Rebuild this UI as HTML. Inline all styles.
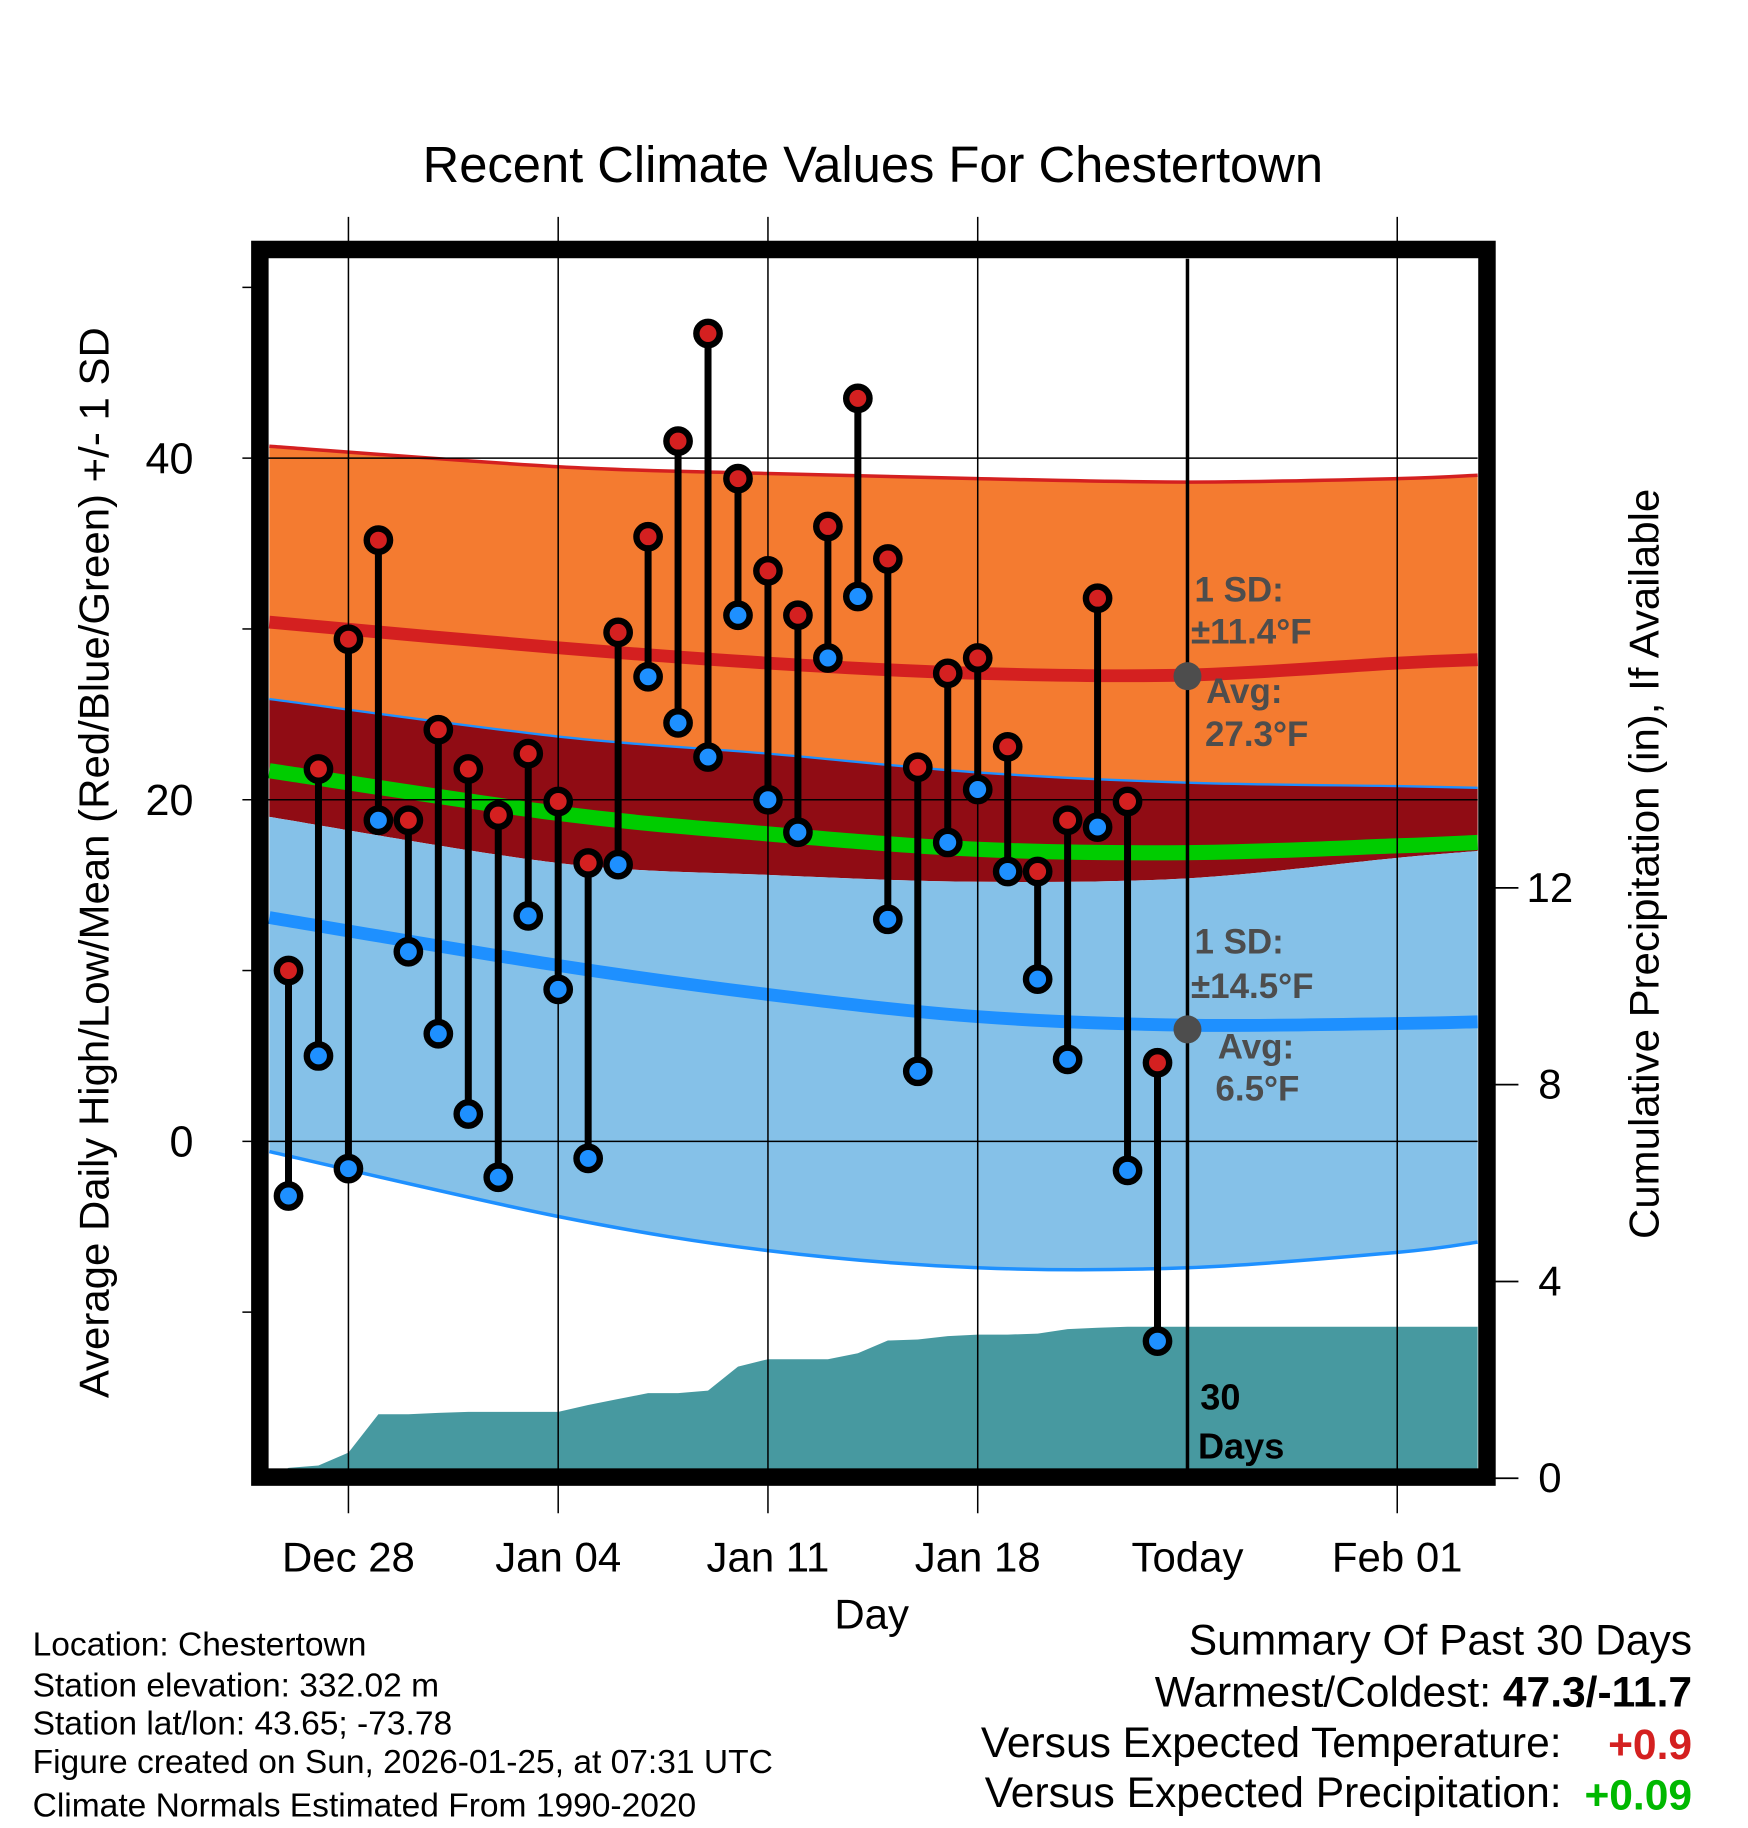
<!DOCTYPE html>
<html><head><meta charset="utf-8"><style>
html,body{margin:0;padding:0;background:#fff}
svg{display:block}
text{font-family:"Liberation Sans",Arial,sans-serif}
</style></head><body>
<svg id="chart" width="1748" height="1828" viewBox="0 0 1500 1568" preserveAspectRatio="none" xmlns="http://www.w3.org/2000/svg">
<g id="bands"></g>
<g id="precip"></g>
<g id="grid"></g>
<g id="marks"></g>
<g id="annot">
<line x1="1019" y1="222" x2="1019" y2="1262" stroke="#000" stroke-width="3"/>
<circle cx="1019" cy="580" r="12" fill="#4d4d4d"/>
<circle cx="1019" cy="883" r="12" fill="#4d4d4d"/>
<g font-weight="bold" font-size="30" fill="#4d4d4d">
<text x="1025" y="516">1 SD:</text>
<text x="1022" y="552">±11.4°F</text>
<text x="1035" y="603">Avg:</text>
<text x="1034" y="640">27.3°F</text>
<text x="1025" y="818">1 SD:</text>
<text x="1022" y="856">±14.5°F</text>
<text x="1045" y="908">Avg:</text>
<text x="1043" y="944">6.5°F</text>
</g>
<g font-weight="bold" font-size="31" fill="#000">
<text x="1030" y="1209">30</text>
<text x="1028" y="1251">Days</text>
</g>
</g>
<rect x="223" y="214" width="1053" height="1053" fill="none" stroke="#000" stroke-width="15"/>
<g id="axes"></g>
<text x="749" y="156" font-size="43.5" text-anchor="middle">Recent Climate Values For Chestertown</text>
<text transform="translate(93,740) rotate(-90)" font-size="36" text-anchor="middle">Average Daily High/Low/Mean (Red/Blue/Green) +/- 1 SD</text>
<text transform="translate(1423,741) rotate(-90)" font-size="36" text-anchor="middle">Cumulative Precipitation (in), If Available</text>
<text x="748" y="1397" font-size="36" text-anchor="middle">Day</text>
<g font-size="28.8">
<text x="28" y="1420">Location: Chestertown</text>
<text x="28" y="1455">Station elevation: 332.02 m</text>
<text x="28" y="1488">Station lat/lon: 43.65; -73.78</text>
<text x="28" y="1521">Figure created on Sun, 2026-01-25, at 07:31 UTC</text>
<text x="28" y="1558">Climate Normals Estimated From 1990-2020</text>
</g>
<g font-size="36.5" text-anchor="end">
<text x="1452" y="1419">Summary Of Past 30 Days</text>
<text x="1452" y="1464">Warmest/Coldest: <tspan font-weight="bold">47.3/-11.7</tspan></text>
<text x="1340" y="1507">Versus Expected Temperature:</text>
<text x="1452" y="1509" font-weight="bold" fill="#d42020">+0.9</text>
<text x="1340" y="1550">Versus Expected Precipitation:</text>
<text x="1452" y="1552" font-weight="bold" fill="#00b800">+0.09</text>
</g>
</svg>
<script>
const dayOffsets=[-2,-1,0,1,2,3,4,5,6,7,8,9,10,11,12,13,14,15,16,17,18,19,20,21,22,23,24,25,26,27];
const highs=[10.0,21.8,29.4,35.2,18.8,24.1,21.8,19.1,22.7,19.9,16.3,29.8,35.4,41.0,47.3,38.8,33.4,30.8,36.0,43.5,34.1,21.9,27.4,28.3,23.1,15.8,18.8,31.8,19.9,4.6];
const lows=[-3.2,5.0,-1.6,18.8,11.1,6.3,1.6,-2.1,13.2,8.9,-1.0,16.2,27.2,24.5,22.5,30.8,20.0,18.1,28.3,31.9,13.0,4.1,17.5,20.6,15.8,9.5,4.8,18.4,-1.7,-11.7];
const precipCum=[0.21,0.26,0.52,1.30,1.30,1.33,1.35,1.35,1.35,1.35,1.49,1.61,1.73,1.73,1.78,2.27,2.42,2.42,2.42,2.54,2.80,2.82,2.89,2.92,2.92,2.94,3.03,3.06,3.08,3.08];
const normDays=[-2.64,7,14,21,28,35,37.7];
const highPlus=[40.7,39.5,39.1,38.8,38.6,38.8,39.0];
const highMean=[30.4,28.9,28.0,27.4,27.3,28.0,28.2];
const highMinus=[25.9,23.7,22.7,21.6,21.0,20.8,20.7];
const meanNorm=[21.7,19.2,18.0,17.1,16.9,17.3,17.5];
const lowPlus=[19.0,16.3,15.6,15.2,15.4,16.6,17.0];
const lowMean=[13.1,10.3,8.6,7.3,6.8,6.9,7.0];
const lowMinus=[-0.6,-4.4,-6.4,-7.4,-7.4,-6.5,-5.9];
const xTickDays=[0,7,14,21,28,35];
const xTickLabels=["Dec 28","Jan 04","Jan 11","Jan 18","Today","Feb 01"];
const yTicks=[0,20,40];
const yMinor=[-10,10,30,50];
const y2Ticks=[0,4,8,12];

const NS="http://www.w3.org/2000/svg";
const X0=231,X1=1268,Y0=222,Y1=1260;
const xs=d=>299+d*180/7;
const ys=v=>979-v*14.65;
const yp=p=>1268-p*42.2;
function el(tag,attrs,parent){const e=document.createElementNS(NS,tag);for(const k in attrs)e.setAttribute(k,attrs[k]);parent.appendChild(e);return e;}
function pts(vals){return normDays.map((d,i)=>[Math.max(X0,Math.min(X1,xs(d))),ys(vals[i])]);}
function smooth(p){let s="M"+p[0][0]+","+p[0][1];for(let i=0;i<p.length-1;i++){const p0=p[i-1]||p[i],p1=p[i],p2=p[i+1],p3=p[i+2]||p2;const c1=[p1[0]+(p2[0]-p0[0])/6,p1[1]+(p2[1]-p0[1])/6],c2=[p2[0]-(p3[0]-p1[0])/6,p2[1]-(p3[1]-p1[1])/6];s+=" C"+c1+" "+c2+" "+p2;}return s;}
function rev(p){return p.slice().reverse();}
function band(top,bot,fill,name){const a=smooth(pts(top)),b=smooth(rev(pts(bot))).replace("M","L");const e=el("path",{d:a+" "+b+" Z",fill:fill},bands);

}
function line(vals,stroke,w,name){const e=el("path",{d:smooth(pts(vals)),fill:"none",stroke:stroke,"stroke-width":w},bands);

}
const bands=document.getElementById("bands");
band(highPlus,highMinus,"#f47b30","high-sd-band");
band(highMinus,lowPlus,"#900c14","overlap-band");
band(lowPlus,lowMinus,"#85c1e8","low-sd-band");
line(highPlus,"#d42020",3,"high-plus-sd-line");
line(highMinus,"#1e90ff",2,"high-minus-sd-line");
line(lowMinus,"#1e90ff",3,"low-minus-sd-line");
line(highMean,"#d42020",11,"high-mean-line");
line(lowMean,"#1e90ff",11,"low-mean-line");
line(meanNorm,"#00cc00",13,"mean-normal-line");

const pg=document.getElementById("precip");
let d="M"+X0+","+Y1+" L"+X0+","+yp(0)+" ";
dayOffsets.forEach((dd,i)=>{d+="L"+xs(dd)+","+yp(precipCum[i])+" ";});
d+="L"+X1+","+yp(precipCum[precipCum.length-1])+" L"+X1+","+Y1+" Z";
const pa=el("path",{d:d,fill:"#4799a0"},pg);



const grid=document.getElementById("grid");
xTickDays.forEach((dd,i)=>{if(xTickLabels[i]==="Today")return;const g=el("line",{x1:xs(dd),x2:xs(dd),y1:186,y2:1298,stroke:"#000","stroke-width":1.3},grid);

});
yTicks.forEach(v=>{const g=el("line",{x1:208,x2:X1,y1:ys(v),y2:ys(v),stroke:"#000","stroke-width":1.3},grid);

});

const mg=document.getElementById("marks");
dayOffsets.forEach((dd,i)=>{const x=xs(dd);
const s=el("line",{x1:x,x2:x,y1:ys(highs[i]),y2:ys(lows[i]),stroke:"#000","stroke-width":6},mg);

});
dayOffsets.forEach((dd,i)=>{const x=xs(dd);
const h=el("circle",{cx:x,cy:ys(highs[i]),r:10,fill:"#d42020",stroke:"#000","stroke-width":5.5},mg);


const l=el("circle",{cx:x,cy:ys(lows[i]),r:10,fill:"#1e90ff",stroke:"#000","stroke-width":5.5},mg);

});

const ax=document.getElementById("axes");
xTickDays.forEach((dd,i)=>{const t=el("text",{x:xs(dd),y:1348,"font-size":36,"text-anchor":"middle"},ax);t.textContent=xTickLabels[i];

});
yTicks.forEach(v=>{const t=el("text",{x:166,y:ys(v)+13,"font-size":37,"text-anchor":"end"},ax);t.textContent=v;

});
yMinor.forEach(v=>{const t=el("line",{x1:208,x2:216,y1:ys(v),y2:ys(v),stroke:"#000","stroke-width":1.3},ax);

});
y2Ticks.forEach(p=>{const t=el("line",{x1:1283,x2:1303,y1:yp(p),y2:yp(p),stroke:"#000","stroke-width":1.5},ax);


const l=el("text",{x:1330,y:yp(p)+12,"font-size":36,"text-anchor":"middle"},ax);l.textContent=p;

});
</script>
</body></html>
